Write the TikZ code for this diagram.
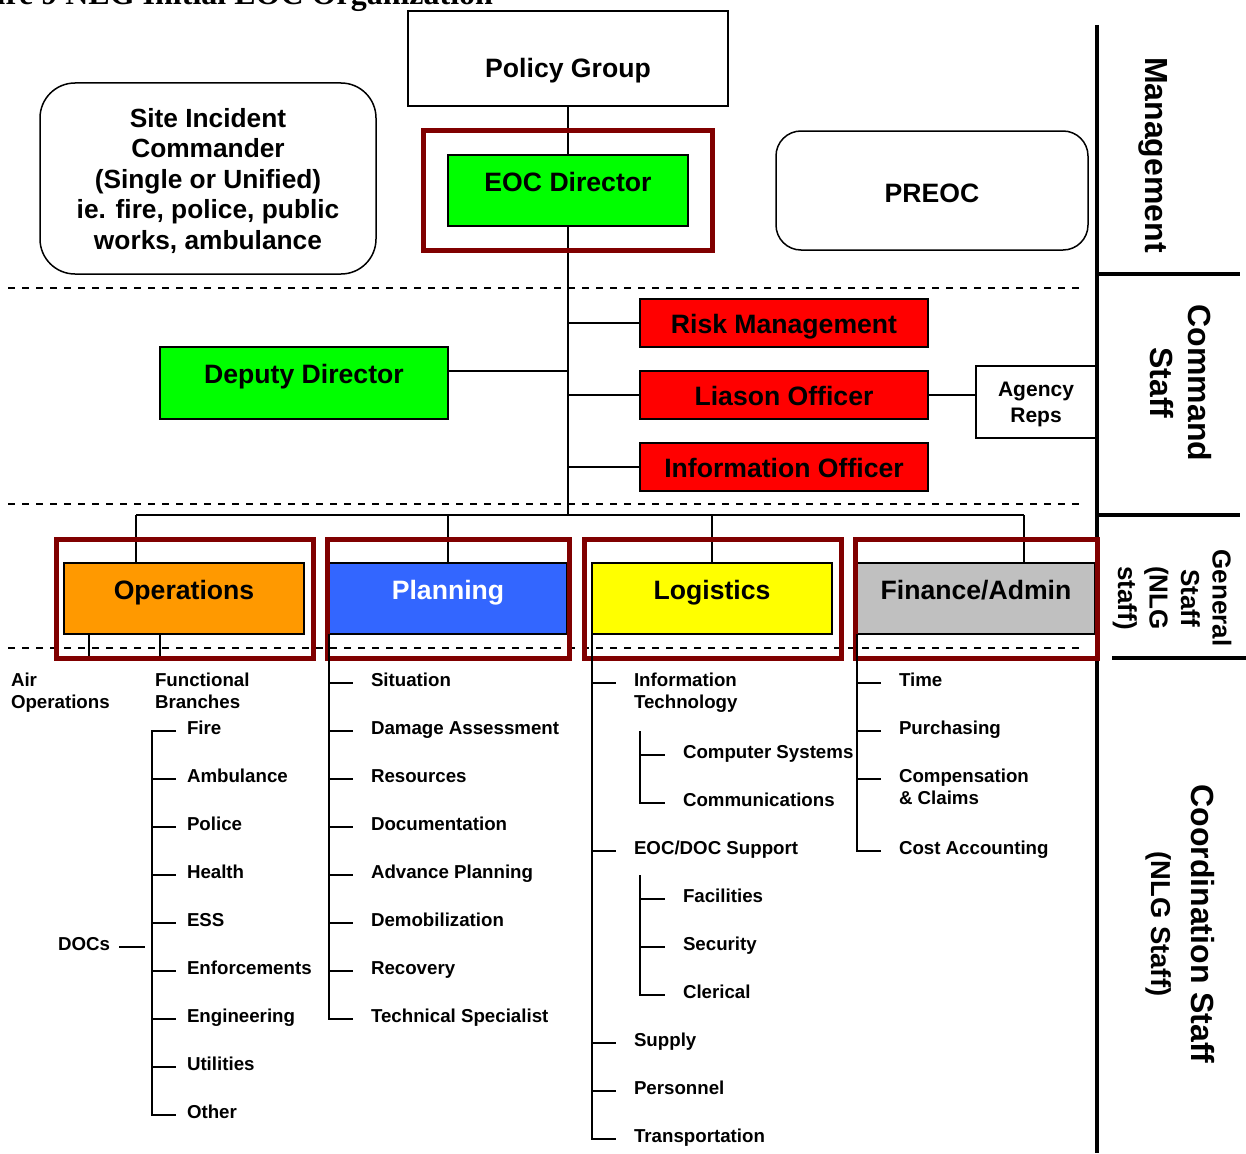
\documentclass[tikz,border=0pt]{standalone}
\usepackage{fontspec}
\setmainfont{Liberation Sans}
\newfontfamily\titlefont{Liberation Serif}
\usetikzlibrary{calc}
\definecolor{maroonred}{HTML}{800000}
\definecolor{boxgreen}{HTML}{00FF00}
\definecolor{boxred}{HTML}{FF0000}
\definecolor{boxorange}{HTML}{FF9900}
\definecolor{boxblue}{HTML}{3366FF}
\definecolor{boxyellow}{HTML}{FFFF00}
\definecolor{boxgray}{HTML}{C0C0C0}
\begin{document}
\begin{tikzpicture}[x=1pt,y=-1pt,
  every node/.style={inner sep=0pt,outer sep=0pt},
  ln/.style={line width=1.5pt},
  dsh/.style={line width=1.5pt,dash pattern=on 7pt off 7pt},
  rule/.style={line width=4pt},
  plainbox/.style={draw,line width=1.5pt,fill=white},
  colbox/.style={draw,line width=2pt,fill=#1},
  redframe/.style={draw=maroonred,line width=5pt},
  boxlbl/.style={font=\fontsize{26.6}{30.5}\selectfont\bfseries,anchor=base},
  itm/.style={font=\fontsize{18.7}{22}\selectfont\bfseries,anchor=base west},
  itm2/.style={font=\fontsize{18.7}{22}\selectfont\bfseries,anchor=north west,align=left},
  sidelbl/.style={rotate=-90,align=center},
]
\fill[white] (0,0) rectangle (1246,1153);
\useasboundingbox (0,0) rectangle (1246,1153);

% caption, cut by the page edge
\node[font=\titlefont\fontsize{32}{37}\selectfont\bfseries,anchor=base east] (title) at (493,5) {Figure 9 NLG Initial EOC Organization};

% level separators
\draw[dsh] (8,288) -- (1085,288);
\draw[dsh] (8,504) -- (1085,504);
\draw[dsh] (8,648) -- (1085,648);

% right-hand level column
\draw[rule] (1097,25) -- (1097,1153);
\draw[rule] (1097,274) -- (1240,274);
\draw[rule] (1097,515) -- (1240,515);
\draw[rule] (1112,658) -- (1246,658);

% boxes
\node[plainbox,minimum width=320pt,minimum height=95pt] (policy) at (568,58.5) {};
\node[plainbox,rounded corners=35pt,minimum width=336pt,minimum height=191pt] (site) at (208,178.5) {};
\node[plainbox,rounded corners=25pt,minimum width=312pt,minimum height=119pt] (preoc) at (932,190.5) {};
\node[colbox=boxgreen,minimum width=240pt,minimum height=71pt] (eoc) at (568,190.5) {};
\node[colbox=boxgreen,minimum width=288pt,minimum height=72pt] (deputy) at (304,383) {};
\node[colbox=boxred,minimum width=288pt,minimum height=48pt] (risk) at (784,323) {};
\node[colbox=boxred,minimum width=288pt,minimum height=48pt] (liason) at (784,395) {};
\node[colbox=boxred,minimum width=288pt,minimum height=48pt] (info) at (784,467) {};
\node[plainbox,minimum width=120pt,minimum height=72pt] (agency) at (1036,402) {};
\node[colbox=boxorange,minimum width=240pt,minimum height=71pt] (ops) at (184,598.5) {};
\node[colbox=boxblue,minimum width=238pt,minimum height=71pt] (plan) at (448,598.5) {};
\node[colbox=boxyellow,minimum width=240pt,minimum height=71pt] (logi) at (712,598.5) {};
\node[colbox=boxgray,minimum width=238pt,minimum height=71pt] (fin) at (976,598.5) {};

% junction points
\coordinate (gbar) at (568,515);
\coordinate (depj) at (568,371);
\coordinate (opsdrop) at (136,515);
\coordinate (findrop) at (1024,515);
\coordinate (airdrop) at (89,658);
\coordinate (funcdrop) at (160,658);

% connectors
\draw[ln] (policy.south) -- (eoc.north);
\draw[ln] (eoc.south) -- (gbar);
\draw[ln] ($(site.east)+(0,0.5)$) -- ($(site.east)+(0,0.5)$ -| eoc.west);
\draw[ln] ($(site.east)+(0,0.5)$ -| eoc.east) -- ($(site.east)+(0,0.5)$ -| preoc.west);
\draw[ln] (deputy.east |- depj) -- (depj);
\draw[ln] (risk.west -| gbar) -- (risk.west);
\draw[ln] (liason.west -| gbar) -- (liason.west);
\draw[ln] (info.west -| gbar) -- (info.west);
\draw[ln] (liason.east) -- (liason.east -| agency.west);
\draw[ln] (opsdrop) -- (findrop);
\draw[ln] (opsdrop) -- (opsdrop |- ops.north);
\draw[ln] (plan.north |- gbar) -- (plan.north);
\draw[ln] (logi.north |- gbar) -- (logi.north);
\draw[ln] (findrop) -- (findrop |- fin.north);
\draw[ln] (airdrop |- ops.south) -- (airdrop);
\draw[ln] (funcdrop |- ops.south) -- (funcdrop);

% section frames
\draw[redframe] (423,130) rectangle (712,250);
\draw[redframe] (56,539) rectangle (313,658);
\draw[redframe] (327,539) rectangle (569,658);
\draw[redframe] (584,539) rectangle (841,658);
\draw[redframe] (855,539) rectangle (1097,658);

% box texts
\node[boxlbl] (policyt) at (568,78) {Policy Group};
\node[font=\fontsize{26.3}{30.5}\selectfont\bfseries,align=center] (sitet) at (208,181)
  {Site Incident\\Commander\\(Single or Unified)\\ie. fire, police, public\\works, ambulance};
\node[boxlbl] (eoct) at (568,191) {EOC Director};
\node[boxlbl] (preoct) at (932,202) {PREOC};
\node[boxlbl] (deputyt) at (304,383) {Deputy Director};
\node[boxlbl] (riskt) at (784,333) {Risk Management};
\node[boxlbl] (liasont) at (784,405) {Liason Officer};
\node[boxlbl] (infot) at (784,477) {Information Officer};
\node[font=\fontsize{21}{26}\selectfont\bfseries,align=center] (agencyt) at (1036,404) {Agency\\Reps};
\node[boxlbl] (opst) at (184,599) {Operations};
\node[boxlbl,text=white] (plant) at (448,599) {Planning};
\node[boxlbl] (logit) at (712,599) {Logistics};
\node[boxlbl] (fint) at (976,599) {Finance/Admin};

% level names
\node[sidelbl,font=\fontsize{32}{38}\selectfont\bfseries] (mgmt) at (1153,155) {Management};
\node[sidelbl,font=\fontsize{32}{38}\selectfont\bfseries] (cmdstaff) at (1181,383) {Command\\Staff};
\node[sidelbl,font=\fontsize{26}{31.5}\selectfont\bfseries] (genstaff) at (1172,598) {General\\Staff\\(NLG\\staff)};
\node[sidelbl,font=\fontsize{32}{40}\selectfont\bfseries] (coordstaff) at (1180,924)
  {Coordination Staff\\{\fontsize{27.4}{40}\selectfont(NLG Staff)}};

% operations branches
\node[itm2] (air) at (11,673) {Air\\Operations};
\node[itm2] (func) at (155,673) {Functional\\Branches};
\foreach \t/\n [count=\i from 0] in {Fire/fire,Ambulance/amb,Police/pol,Health/hea,ESS/ess,Enforcements/enf,Engineering/eng,Utilities/uti,Other/oth}
  \node[itm] (\n) at (187,734+48*\i) {\t};
\draw[ln] ($(fire.base west)+(-11,-3)$) -- ++(-24,0) |- ($(oth.base west)+(-11,-3)$);
\foreach \n in {amb,pol,hea,ess,enf,eng,uti}
  \draw[ln] ($(\n.base west)+(-35,-3)$) -- ++(24,0);
\node[itm,anchor=base east] (docs) at (110,950) {DOCs};
\draw[ln] ($(docs.base east)+(9,-3)$) -- ++(26,0);

% planning sections
\foreach \t/\n [count=\i from 0] in {Situation/sit,Damage Assessment/dam,Resources/res,Documentation/docu,Advance Planning/adv,Demobilization/demob,Recovery/rec,Technical Specialist/tech}
  \node[itm] (\n) at (371,686+48*\i) {\t};
\draw[ln] (plan.south west) |- ($(tech.base west)+(-18,-3)$);
\foreach \n in {sit,dam,res,docu,adv,demob,rec}
  \draw[ln] ($(\n.base west)+(-42,-3)$) -- ++(24,0);

% logistics sections
\node[itm2] (itech) at (634,673) {Information\\Technology};
\node[itm] (eocdoc) at (634,854) {EOC/DOC Support};
\node[itm] (supply) at (634,1046) {Supply};
\node[itm] (person) at (634,1094) {Personnel};
\node[itm] (trans) at (634,1142) {Transportation};
\draw[ln] (logi.south west) |- ($(trans.base west)+(-18,-3)$);
\draw[ln] ($(itech.north west)+(-42,10)$) -- ++(24,0);
\foreach \n in {eocdoc,supply,person}
  \draw[ln] ($(\n.base west)+(-42,-3)$) -- ++(24,0);
\node[itm] (compsys) at (683,758) {Computer Systems};
\node[itm] (comms) at (683,806) {Communications};
\draw[ln] ($(compsys.base west)+(-43,-27)$) |- ($(comms.base west)+(-18,-3)$);
\draw[ln] ($(compsys.base west)+(-43,-3)$) -- ++(25,0);
\node[itm] (facil) at (683,902) {Facilities};
\node[itm] (secur) at (683,950) {Security};
\node[itm] (cleric) at (683,998) {Clerical};
\draw[ln] ($(facil.base west)+(-43,-27)$) |- ($(cleric.base west)+(-18,-3)$);
\foreach \n in {facil,secur}
  \draw[ln] ($(\n.base west)+(-43,-3)$) -- ++(25,0);

% finance sections
\node[itm] (time) at (899,686) {Time};
\node[itm] (purch) at (899,734) {Purchasing};
\node[itm2] (comp) at (899,769) {Compensation\\\& Claims};
\node[itm] (cost) at (899,854) {Cost Accounting};
\draw[ln] (fin.south west) |- ($(cost.base west)+(-18,-3)$);
\foreach \n in {time,purch}
  \draw[ln] ($(\n.base west)+(-42,-3)$) -- ++(24,0);
\draw[ln] ($(comp.north west)+(-42,10)$) -- ++(24,0);
\end{tikzpicture}
\end{document}
